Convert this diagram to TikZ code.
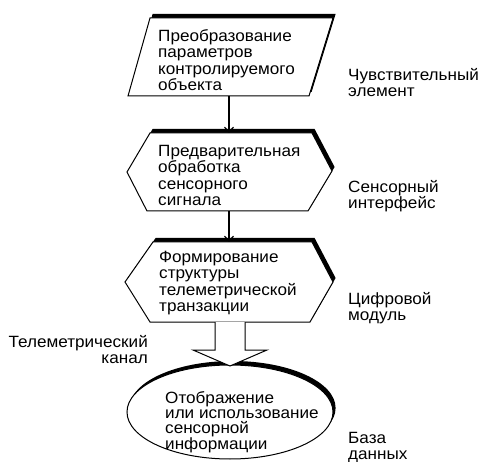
\documentclass[tikz,border=0pt]{standalone}
\usepackage{fontspec}
\setmainfont{Liberation Sans}[FakeStretch=1.05]
\usetikzlibrary{arrows.meta}

% outlines of the blocks
\newcommand{\prmpath}{(150,18) -- (333,18) -- (309,96) -- (128,96) -- cycle}
\newcommand{\obrpath}{(150,133) -- (312,133) -- (332,171) -- (308,211) -- (147,211) -- (127,172) -- cycle}
\newcommand{\frmpath}{(153,242) -- (312,242) -- (333,282) -- (310,322) -- (150,322) -- (125,282) -- cycle}

\tikzset{
  blocktext/.style={align=left, anchor=base west, inner sep=0pt,
    font=\fontsize{16.3}{16.5}\selectfont},
  sidetext/.style={align=left, anchor=base west, inner sep=0pt,
    font=\fontsize{16.3}{16}\selectfont},
  outline/.style={line width=1pt, fill=white},
  shadow/.style={fill=black, shift={(2.6,-4)}},
  flow/.style={line width=1.2pt, -{Straight Barb[length=5pt,width=9pt]}},
}

\begin{document}
\begin{tikzpicture}[x=1pt, y=-1pt]
	\useasboundingbox (0,0) rectangle (479,462);

	% blocks with their shadows
	\fill[shadow] \prmpath;
	\filldraw[outline] \prmpath;
	\fill[shadow] \obrpath;
	\filldraw[outline] \obrpath;
	\fill[shadow] \frmpath;
	\filldraw[outline] \frmpath;
	\fill[shadow] (230,412) ellipse [x radius=103, y radius=47];
	\filldraw[outline] (230,412) ellipse [x radius=103, y radius=47];

	% block arrow for the channel
	\filldraw[outline, line join=miter] (215,322) -- (215,350) -- (193,350) -- (230,366)
		-- (267,350) -- (245,350) -- (245,322);

	% texts of the blocks (placed at the baseline of the last line)
	\node[blocktext] (prm) at (158,91) {Преобразование\\параметров\\контролируемого\\объекта};
	\node[blocktext] (obr) at (158,206) {Предварительная\\обработка\\сенсорного\\сигнала};
	\node[blocktext] (frm) at (159,312) {Формирование\\структуры\\телеметрической\\транзакции};
	\node[blocktext, font=\fontsize{16.3}{15.3}\selectfont] (otb) at (165,449)
		{Отображение\\или использование\\сенсорной\\информации};

	% side labels
	\node[sidetext] (chv) at (348,97) {Чувствительный\\элемент};
	\node[sidetext] (sns) at (348,209) {Сенсорный\\интерфейс};
	\node[sidetext] (cif) at (348,320) {Цифровой\\модуль};
	\node[sidetext] (bzd) at (348,459) {База\\данных};
	\node[sidetext, align=right, anchor=base east] (tlm) at (148,363) {Телеметрический\\канал};

	% connectors
	\coordinate (prm-out) at (229,96);
	\coordinate (obr-in) at (229,133);
	\coordinate (obr-out) at (229,211);
	\coordinate (frm-in) at (229,242);
	\draw[flow] (prm-out) -- (obr-in);
	\draw[flow] (obr-out) -- (frm-in);
\end{tikzpicture}
\end{document}
